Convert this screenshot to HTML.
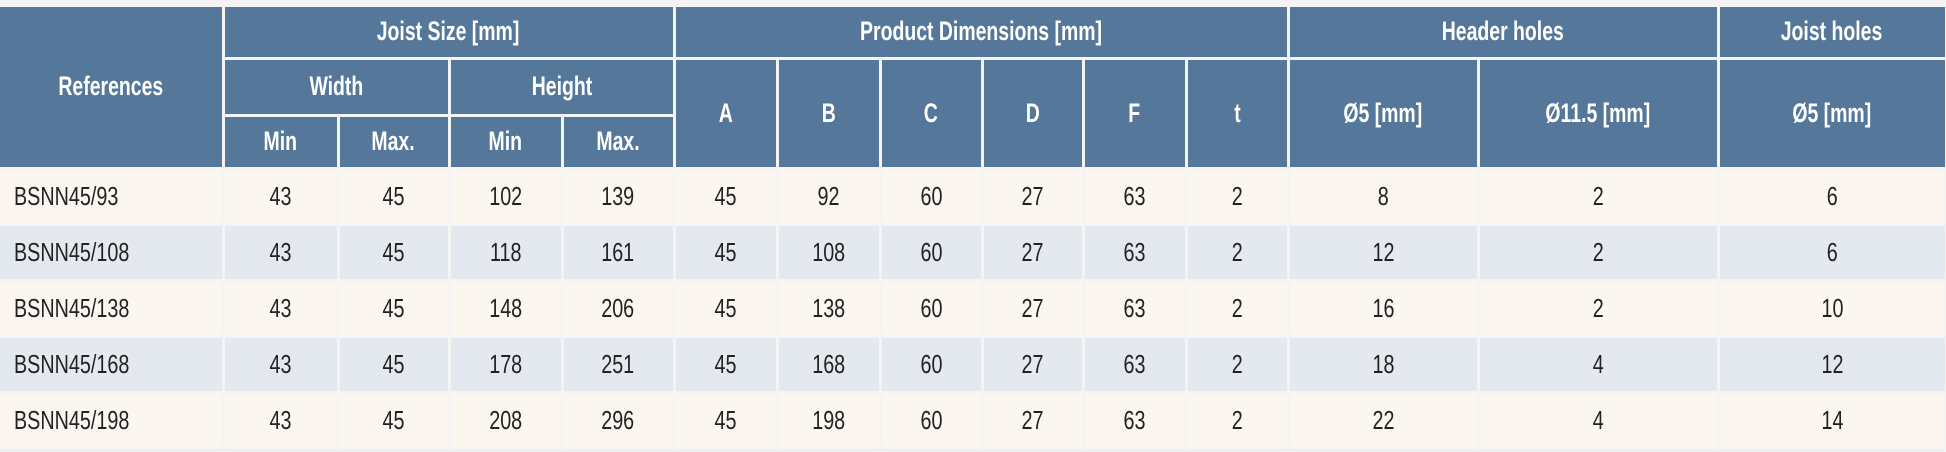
<!DOCTYPE html>
<html><head><meta charset="utf-8"><style>
html,body{margin:0;padding:0;background:#f4f4f4;width:1946px;height:452px;overflow:hidden;}
#w{position:relative;width:1946px;height:452px;overflow:hidden;background:#f4f4f4;}
.c{position:absolute;box-sizing:border-box;display:flex;align-items:center;justify-content:center;font-family:"Liberation Sans",sans-serif;font-size:26px;color:#222;}
.c span{display:inline-block;transform:scaleX(0.76);transform-origin:center;white-space:nowrap;}
.l span{transform-origin:left;}
.h{background:#557799;color:#fff;font-weight:bold;font-size:27px;}
.h span{transform:scaleX(0.72);}
.l{justify-content:flex-start;padding-left:14px;}
</style></head><body><div id="w"></div>
<script>
var w=document.getElementById('w');
function c(x1,y1,x2,y2,t,cls,bg){var d=document.createElement('div');d.className='c '+(cls||'');d.style.left=(x1+(x1?1.5:0))+'px';d.style.top=(y1+1.5)+'px';d.style.width=(x2-x1-(x1?3:1.5))+'px';d.style.height=(Math.min(y2,452)-y1-(y2>452?1.5:3))+'px';if(bg)d.style.background=bg;var s=document.createElement('span');s.textContent=t;d.appendChild(s);w.appendChild(d);}
var X=[0,223,338,449,562,674,777,880,982,1083,1186,1288,1478,1718,1946];
c(0,5,223,168,'References','h');
c(223,5,674,58,'Joist Size [mm]','h');
c(674,5,1288,58,'Product Dimensions [mm]','h');
c(1288,5,1718,58,'Header holes','h');
c(1718,5,1946,58,'Joist holes','h');
c(223,58,449,115,'Width','h');c(449,58,674,115,'Height','h');
c(223,115,338,168,'Min','h');c(338,115,449,168,'Max.','h');c(449,115,562,168,'Min','h');c(562,115,674,168,'Max.','h');
var L=['A','B','C','D','F','t'];for(var i=0;i<6;i++)c(X[5+i],58,X[6+i],168,L[i],'h');
c(1288,58,1478,168,'Ø5 [mm]','h');c(1478,58,1718,168,'Ø11.5 [mm]','h');c(1718,58,1946,168,'Ø5 [mm]','h');
var R=[['BSNN45/93',43,45,102,139,45,92,60,27,63,2,8,2,6],['BSNN45/108',43,45,118,161,45,108,60,27,63,2,12,2,6],['BSNN45/138',43,45,148,206,45,138,60,27,63,2,16,2,10],['BSNN45/168',43,45,178,251,45,168,60,27,63,2,18,4,12],['BSNN45/198',43,45,208,296,45,198,60,27,63,2,22,4,14],['','','','','','','','','','','','','','']];
var Y=[168,224,280,336,392,448,452];
for(var r=0;r<6;r++){var bg=r%2?'#e4e9f0':'#fbf6ef';for(var k=0;k<14;k++)c(X[k],Y[r],X[k+1],Y[r+1],R[r][k],k?'':'l',bg);}
</script></body></html>
